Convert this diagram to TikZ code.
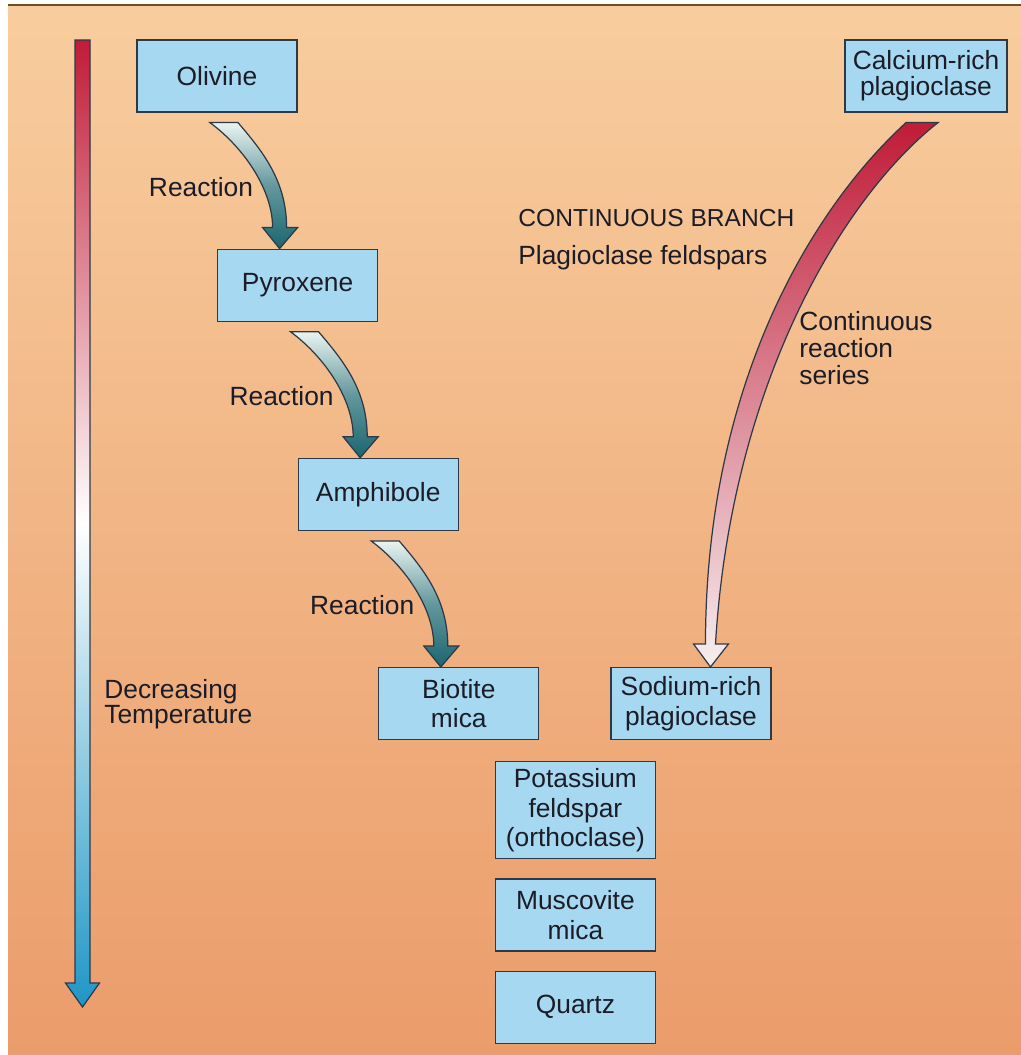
\documentclass[tikz,border=0pt]{standalone}
\usepackage{fontspec}
\setmainfont{Liberation Sans}
\usepackage{xcolor}
\usetikzlibrary{positioning,calc}

\definecolor{bgtop}{HTML}{F8CD9E}
\definecolor{bgbot}{HTML}{EB9C6B}
\definecolor{boxblue}{HTML}{A7D8F1}
\definecolor{boxedge}{HTML}{2E3947}
\definecolor{ink}{HTML}{1C1C26}
\definecolor{hotred}{HTML}{C01C38}
\definecolor{coldblue}{HTML}{1E96C6}
\definecolor{tealpale}{HTML}{EAF4F1}
\definecolor{tealdark}{HTML}{1A6670}
\definecolor{pinkpale}{HTML}{F6EEF0}

\begin{document}
\begin{tikzpicture}[x=0.02cm, y=-0.02cm, font=\fontsize{15pt}{17pt}\selectfont, text=ink]
  \tikzstyle{mineral} = [rectangle, draw=boxedge, line width=0.7pt, fill=boxblue, minimum width=3.2cm, minimum height=1.44cm, align=center, inner sep=2pt]
  \tikzstyle{rxn} = [draw=boxedge, line width=0.7pt, top color=tealpale, bottom color=tealdark, middle color=tealdark!65!tealpale]
  \tikzstyle{lbl} = [align=left, inner sep=0pt]
  % frame and background
  \useasboundingbox (0,0) rectangle (1021,1055);
  \fill[white] (0,0) rectangle (1021,1055);
  \fill[top color=bgtop, bottom color=bgbot] (8,6) rectangle (1021,1055);
  \draw[line width=1.2pt, brown!60!black] (8,5) -- (1021,5);
  % discontinuous branch
  \node[mineral] (Ol) at (217,76) {Olivine};
  \node[mineral, below=2.72cm of Ol.south east] (Py) {Pyroxene};
  \node[mineral, below=2.72cm of Py.south east] (Am) {Amphibole};
  \node[mineral, below=2.72cm of Am.south east] (Bi) {Biotite\\mica};
  \node[mineral, right=1.42cm of Bi] (Na) {Sodium-rich\\plagioclase};
  \node[mineral, below=0.42cm of Bi.south east, xshift=0.72cm, minimum height=1.94cm] (K) {Potassium\\feldspar\\(orthoclase)};
  \node[mineral, below=0.38cm of K] (Mu) {Muscovite\\mica};
  \node[mineral, below=0.38cm of Mu] (Qz) {Quartz};
  \foreach \a/\b in {Ol/Py, Py/Am, Am/Bi} {
    \draw[rxn] ($(\a.south)+(-7,10)$) -- ($(\a.south)+(21,10)$)
      .. controls ($(\a.south)+(45,38)$) and ($(\b.north)+(-11,-68)$) .. ($(\b.north)+(-11,-21)$)
      -- ($(\b.north)+(0,-21)$) -- ($(\b.north)+(-18,0)$) -- ($(\b.north)+(-35,-21)$) -- ($(\b.north)+(-25,-21)$)
      .. controls ($(\b.north)+(-25,-58)$) and ($(\a.south)+(28,36)$) .. cycle;
    \node (r\a) at ($(\a.south)+(-16,74)$) {Reaction};
  }
  % continuous branch
  \node[mineral, minimum width=3.24cm, font=\fontsize{15pt}{15pt}\selectfont] (Ca) at (926,76) {Calcium-rich\\plagioclase};
  \draw[draw=boxedge, line width=0.7pt, top color=hotred, bottom color=pinkpale]
    ($(Ca.south)+(-20,10)$) -- ($(Ca.south)+(12,10)$)
    .. controls ($(Ca.south)+(-81,83)$) and ($(Na.north)+(40.5,-287)$) .. ($(Na.north)+(24.5,-23)$)
    -- ($(Na.north)+(37.5,-23)$) -- ($(Na.north)+(19.5,0)$) -- ($(Na.north)+(2.5,-23)$) -- ($(Na.north)+(14.5,-23)$)
    .. controls ($(Na.north)+(14.5,-287)$) and ($(Ca.south)+(-111,93)$) .. cycle;
  \node[lbl, anchor=west, font=\fontsize{14pt}{16pt}\selectfont] (branch) at (518,218) {CONTINUOUS BRANCH};
  \node[lbl, anchor=west] (feld) at (518,258) {Plagioclase feldspars};
  \node[lbl, anchor=west, font=\fontsize{15pt}{15.5pt}\selectfont] (series) at (799,348) {Continuous\\reaction\\series};
  % temperature scale
  \coordinate (hot) at (82.5,40);
  \coordinate (cold) at (82.5,1007);
  \draw[draw=boxedge, line width=0.7pt, top color=hotred, bottom color=coldblue, middle color=white]
    ($(hot)+(-7.5,0)$) -- ($(hot)+(7.5,0)$) -- ($(cold)+(7.5,-24)$) -- ($(cold)+(17,-24)$) -- (cold)
    -- ($(cold)+(-17,-24)$) -- ($(cold)+(-7.5,-24)$) -- cycle;
  \node[lbl, anchor=west, font=\fontsize{15pt}{14.5pt}\selectfont] (temp) at (104,704) {Decreasing\\Temperature};
\end{tikzpicture}
\end{document}
